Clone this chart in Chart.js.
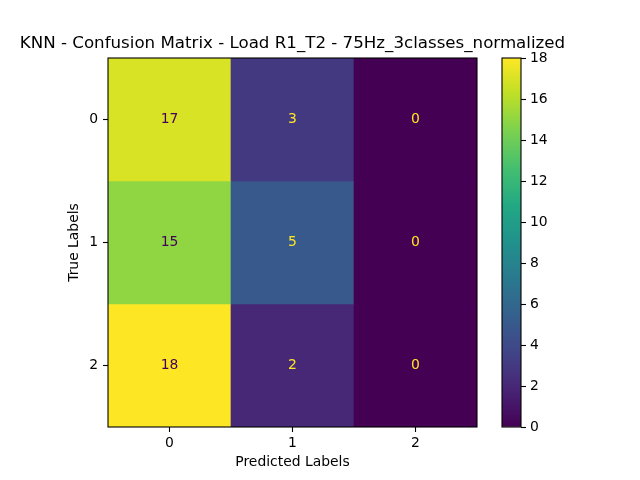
<!DOCTYPE html>
<html><head><meta charset="utf-8">
<script src="https://cdn.jsdelivr.net/npm/chart.js@4.4.0/dist/chart.umd.min.js"></script>
<style>
html,body{margin:0;padding:0;background:#fff;}
#wrap{position:relative;width:640px;height:480px;}
canvas{position:absolute;left:0;top:0;}
</style></head><body>
<div id="wrap"><canvas id="cm" width="640" height="480"></canvas><canvas id="cb" width="640" height="480"></canvas></div>
<script>
// ---- data ----
const predictedLabels = ['0', '1', '2'];
const trueLabels = ['0', '1', '2'];
const row0 = [17, 3, 0];
const row1 = [15, 5, 0];
const row2 = [18, 2, 0];
const rows = [row0, row1, row2];
const colorbarTicks = [0, 2, 4, 6, 8, 10, 12, 14, 16, 18];
const colorMin = 0, colorMax = 18;
const titleText = 'KNN - Confusion Matrix - Load R1_T2 - 75Hz_3classes_normalized';

// ---- viridis colormap ----
const viridisStops = ['#440154','#482475','#414487','#355f8d','#2a788e','#21918c','#22a884','#44bf70','#7ad151','#bddf26','#fde725'];
function hex2rgb(h){return [parseInt(h.slice(1,3),16),parseInt(h.slice(3,5),16),parseInt(h.slice(5,7),16)];}
function viridis(t){
  t = Math.max(0, Math.min(1, t));
  const p = t * 10, i = Math.min(9, Math.floor(p)), f = p - i;
  const a = hex2rgb(viridisStops[i]), b = hex2rgb(viridisStops[i+1]);
  const c = a.map((v,k)=>Math.round(v + (b[k]-v)*f));
  return 'rgb(' + c.join(',') + ')';
}

Chart.defaults.font.family = '"DejaVu Sans", sans-serif';
Chart.defaults.font.size = 13.9;
Chart.defaults.color = '#000';

const frame = {
  id: 'frame',
  afterDraw(chart){
    const {ctx, chartArea:a} = chart;
    ctx.save();
    ctx.strokeStyle = '#000';
    ctx.lineWidth = 1.1;
    ctx.strokeRect(a.left, a.top, a.right - a.left, a.bottom - a.top);
    ctx.restore();
  }
};

const cellText = {
  id: 'cellText',
  afterDatasetsDraw(chart){
    const {ctx, scales:{x, y}} = chart;
    ctx.save();
    ctx.font = '13.9px "DejaVu Sans"';
    ctx.textAlign = 'center';
    ctx.textBaseline = 'middle';
    const thresh = (colorMax + colorMin) / 2;
    rows.forEach((vals, i) => vals.forEach((v, j) => {
      ctx.fillStyle = v < thresh ? viridisStops[10] : viridisStops[0];
      ctx.fillText(String(v), x.getPixelForValue(j), y.getPixelForValue(i));
    }));
    ctx.restore();
  }
};

const datasets = rows.map((vals, i) => ({
  label: 'True ' + trueLabels[i],
  yAxisID: 'y',
  data: vals.map(() => [i - 0.5, i + 0.5]),
  backgroundColor: vals.map(v => viridis((v - colorMin) / (colorMax - colorMin))),
  borderWidth: 0,
  barPercentage: 1,
  categoryPercentage: 1,
  grouped: false
}));

new Chart(document.getElementById('cm'), {
  type: 'bar',
  data: { labels: predictedLabels, datasets },
  options: {
    responsive: false,
    animation: false,
    layout: { padding: { left: 0, right: 55, top: 0, bottom: 0 } },
    plugins: {
      legend: { display: false },
      tooltip: { enabled: false },
      title: {
        display: true, text: titleText, color: '#000',
        font: { size: 16.67, weight: 'normal', lineHeight: 1.2 },
        padding: { top: 34, bottom: 4 }
      }
    },
    scales: {
      x: {
        type: 'category',
        grid: { drawOnChartArea: false, offset: false, tickLength: 5, tickColor: '#000', tickWidth: 1.1 },
        border: { display: false },
        ticks: { padding: 3, color: '#000' },
        title: { display: true, text: 'Predicted Labels', color: '#000', padding: { top: 0, bottom: 9.6 } },
        afterFit: s => { s.height = 53; }
      },
      y: {
        type: 'linear', position: 'left', min: -0.5, max: 2.5, reverse: true,
        afterBuildTicks: s => { s.ticks = trueLabels.map((_, i) => ({ value: i })); },
        grid: { drawOnChartArea: false, tickLength: 5, tickColor: '#000', tickWidth: 1.1 },
        border: { display: false },
        ticks: { padding: 5, color: '#000', callback: (v, idx) => trueLabels[idx] },
        title: { display: true, text: 'True Labels', color: '#000', padding: { top: 65.6, bottom: 0 } },
        afterFit: s => { s.width = 108; }
      },
      yPad: {
        type: 'linear', position: 'right', display: true,
        grid: { display: false }, border: { display: false }, ticks: { display: false },
        afterFit: s => { s.width = 108; }
      }
    }
  },
  plugins: [cellText, frame]
});

function cbGradient(chart){
  const a = chart.chartArea;
  if (!a) return viridisStops[5];
  const g = chart.ctx.createLinearGradient(0, a.bottom, 0, a.top);
  viridisStops.forEach((c, k) => g.addColorStop(k / 10, c));
  return g;
}

new Chart(document.getElementById('cb'), {
  type: 'bar',
  data: { labels: [''], datasets: [{
    data: [[colorMin, colorMax]],
    backgroundColor: ctx => cbGradient(ctx.chart),
    borderWidth: 0, barPercentage: 1, categoryPercentage: 1
  }] },
  options: {
    responsive: false,
    animation: false,
    layout: { padding: { left: 502, right: 89, top: 58, bottom: 53 } },
    plugins: { legend: { display: false }, tooltip: { enabled: false } },
    scales: {
      x: { display: false },
      y: {
        position: 'right', min: colorMin, max: colorMax,
        afterBuildTicks: s => { s.ticks = colorbarTicks.map(v => ({ value: v })); },
        grid: { drawOnChartArea: false, tickLength: 5, tickColor: '#000', tickWidth: 1.1 },
        border: { display: false },
        ticks: { padding: 4, color: '#000' },
        afterFit: s => { s.width = 30; }
      }
    }
  },
  plugins: [frame]
});
</script>
</body></html>
